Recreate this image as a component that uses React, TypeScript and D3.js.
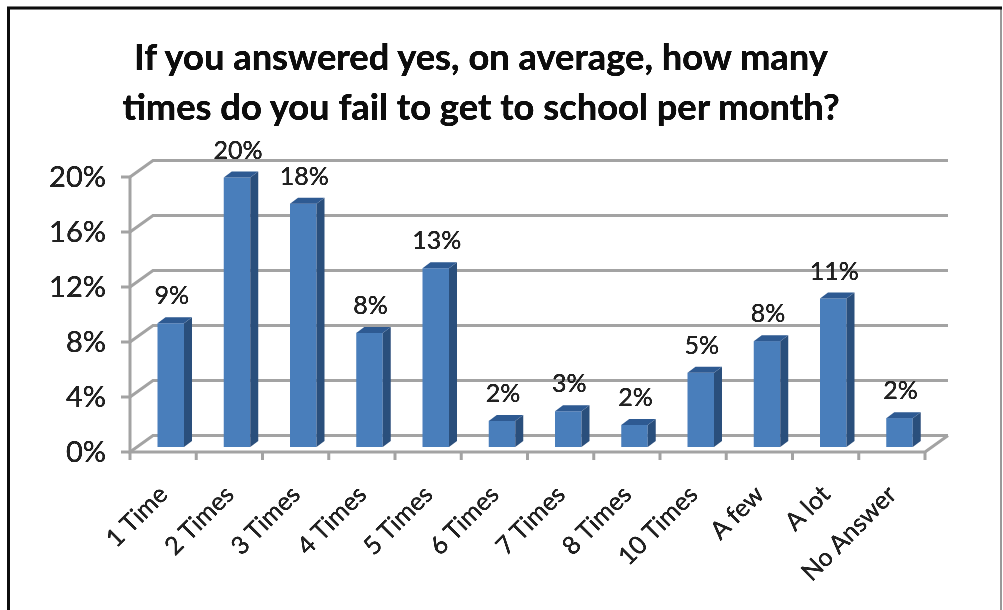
import React, { useEffect, useRef } from 'react';
import * as d3 from 'd3';

const categories = ['1 Time', '2 Times', '3 Times', '4 Times', '5 Times', '6 Times', '7 Times', '8 Times', '10 Times', 'A few', 'A lot', 'No Answer'];
const values = [9.0, 19.6, 17.7, 8.3, 13.0, 1.9, 2.6, 1.6, 5.4, 7.7, 10.8, 2.1];
const valueLabels = ['9%', '20%', '18%', '8%', '13%', '2%', '3%', '2%', '5%', '8%', '11%', '2%'];
const yTicks = [0, 4, 8, 12, 16, 20];
const titleLines = ['If you answered yes, on average, how many', 'times do you fail to get to school per month?'];

const WIDTH = 1003;
const HEIGHT = 610;
const FONT = 'Lato, "Open Sans", sans-serif';
const GRID = '#a3a3a3';
const DEPTH_X = 23;
const DEPTH_Y = 16.5;

export default function App() {
    const svgRef = useRef<SVGSVGElement>(null);

    useEffect(() => {
        if (!svgRef.current) return;
        const svg = d3.select(svgRef.current);
        svg.selectAll('*').remove();

        const defs = svg.append('defs');
        defs.append('filter').attr('id', 'soft')
            .attr('filterUnits', 'userSpaceOnUse')
            .attr('x', 0).attr('y', 0).attr('width', WIDTH).attr('height', HEIGHT)
            .append('feGaussianBlur').attr('stdDeviation', 0.7);

        // text stays dark after the blur: alpha is pushed back up
        const softText = defs.append('filter').attr('id', 'softText')
            .attr('filterUnits', 'userSpaceOnUse')
            .attr('x', 0).attr('y', 0).attr('width', WIDTH).attr('height', HEIGHT);
        softText.append('feGaussianBlur').attr('stdDeviation', 0.7);
        softText.append('feComponentTransfer')
            .append('feFuncA').attr('type', 'linear').attr('slope', 2);

        svg.append('rect')
            .attr('x', 0).attr('y', 0).attr('width', WIDTH).attr('height', HEIGHT)
            .attr('fill', '#fff');

        const root = svg.append('g').attr('filter', 'url(#soft)');
        const textLayer = svg.append('g').attr('filter', 'url(#softText)');

        // outer frame: heavy top and left, thin grey right, no bottom edge in view
        textLayer.append('line').attr('x1', 7).attr('x2', 1002).attr('y1', 8).attr('y2', 8)
            .attr('stroke', '#111').attr('stroke-width', 2.5);
        textLayer.append('line').attr('x1', 8.5).attr('x2', 8.5).attr('y1', 7).attr('y2', HEIGHT)
            .attr('stroke', '#111').attr('stroke-width', 2.5);
        root.append('line').attr('x1', 1001).attr('x2', 1001).attr('y1', 8).attr('y2', HEIGHT)
            .attr('stroke', '#777').attr('stroke-width', 1.5);

        textLayer.append('g').selectAll('text').data(titleLines).join('text')
            .attr('x', 481)
            .attr('y', (_, i) => 70 + i * 50)
            .attr('text-anchor', 'middle')
            .attr('font-family', FONT)
            .attr('font-weight', 700)
            .attr('font-size', 36.3)
            .attr('fill', '#111')
            .text(d => d);

        const x = d3.scaleBand<string>().domain(categories).range([130, 925]);
        const y = d3.scaleLinear().domain([0, 20]).range([452, 177]);

        const axis = root.append('g').attr('fill', 'none').attr('stroke', GRID).attr('stroke-width', 3);

        // gridlines on the back wall and side wall
        yTicks.forEach(t => {
            axis.append('path').attr('d', d3.line()([
                [x.range()[0], y(t)],
                [x.range()[0] + DEPTH_X, y(t) - DEPTH_Y],
                [x.range()[1] + DEPTH_X, y(t) - DEPTH_Y],
            ]));
            axis.append('line')
                .attr('x1', x.range()[0] - 9).attr('x2', x.range()[0])
                .attr('y1', y(t)).attr('y2', y(t));
        });

        // floor front edge and right floor edge
        axis.append('path').attr('d', d3.line()([
            [x.range()[0], y(20)],
            [x.range()[0], y(0)],
            [x.range()[1], y(0)],
            [x.range()[1] + DEPTH_X, y(0) - DEPTH_Y],
        ]));
        [...categories.map(c => x(c) as number), x.range()[1]].forEach(px => {
            axis.append('line')
                .attr('x1', px).attr('x2', px)
                .attr('y1', y(0)).attr('y2', y(0) + 8);
        });

        textLayer.append('g').selectAll('text').data(yTicks).join('text')
            .attr('x', 106)
            .attr('y', d => y(d) + 10)
            .attr('text-anchor', 'end')
            .attr('font-family', FONT)
            .attr('font-size', 29)
            .attr('fill', '#222')
            .text(d => `${d}%`);

        // bars sit a little behind the front edge
        const barWidth = 26.5;
        const barOffset = 27.5;
        const baseY = y(0) - 5;
        const sideX = 8;
        const sideY = 6;
        const barH = (d: number) => y(0) - y(d);

        const bars = root.append('g').selectAll('g').data(categories).join('g')
            .attr('transform', c => `translate(${(x(c) as number) + barOffset},0)`);

        bars.append('rect')
            .attr('x', 0)
            .attr('y', (_, i) => baseY - barH(values[i]))
            .attr('width', barWidth)
            .attr('height', (_, i) => barH(values[i]))
            .attr('fill', '#4a7ebb');

        bars.append('path')
            .attr('fill', '#2c4f7c')
            .attr('d', (_, i) => {
                const top = baseY - barH(values[i]);
                return d3.line()([
                    [barWidth, top],
                    [barWidth + sideX, top - sideY],
                    [barWidth + sideX, baseY - sideY],
                    [barWidth, baseY],
                ]);
            });

        bars.append('path')
            .attr('fill', '#2f5a92')
            .attr('d', (_, i) => {
                const top = baseY - barH(values[i]);
                return d3.line()([
                    [0, top],
                    [sideX, top - sideY],
                    [barWidth + sideX, top - sideY],
                    [barWidth, top],
                ]);
            });

        textLayer.append('g').selectAll('text').data(categories).join('text')
            .attr('x', c => (x(c) as number) + barOffset + barWidth / 2 + 1)
            .attr('y', (_, i) => baseY - barH(values[i]) - 19)
            .attr('text-anchor', 'middle')
            .attr('font-family', FONT)
            .attr('font-size', 25)
            .attr('fill', '#222')
            .text((_, i) => valueLabels[i]);

        // rotated category labels, right end anchored under each band
        textLayer.append('g').selectAll('text').data(categories).join('text')
            .attr('transform', c => `translate(${(x(c) as number) + x.bandwidth() / 2 + 6},${y(0) + 44}) rotate(-45)`)
            .attr('text-anchor', 'end')
            .attr('font-family', FONT)
            .attr('font-size', 25)
            .attr('fill', '#222')
            .text(c => c);
    }, []);

    return (
        <svg
            ref={svgRef}
            width={WIDTH}
            height={HEIGHT}
            style={{ position: 'absolute', left: 0, top: 0, display: 'block' }}
        />
    );
}
